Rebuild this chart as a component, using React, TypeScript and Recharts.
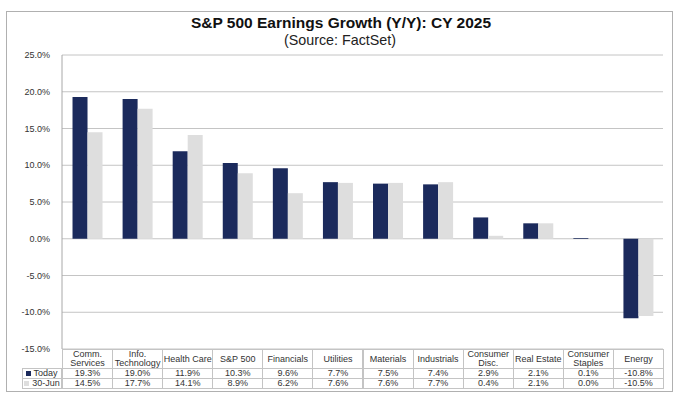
import { BarChart, Bar, XAxis, YAxis, CartesianGrid } from "recharts";

const categories = [
  "Comm.\nServices",
  "Info.\nTechnology",
  "Health Care",
  "S&P 500",
  "Financials",
  "Utilities",
  "Materials",
  "Industrials",
  "Consumer\nDisc.",
  "Real Estate",
  "Consumer\nStaples",
  "Energy",
];
const today = [19.3, 19.0, 11.9, 10.3, 9.6, 7.7, 7.5, 7.4, 2.9, 2.1, 0.1, -10.8];
const june30 = [14.5, 17.7, 14.1, 8.9, 6.2, 7.6, 7.6, 7.7, 0.4, 2.1, 0.0, -10.5];
const yTicks = [-15, -10, -5, 0, 5, 10, 15, 20, 25];

const NAVY = "#1b2a5c";
const LIGHT = "#dedede";
const GRID = "#c4c4c4";
const FONT = "'Liberation Sans', Arial, sans-serif";

const data = categories.map((c, i) => ({ name: c, today: today[i], june30: june30[i] }));

const PLOT_LEFT = 62;
const PLOT_RIGHT = 663;
const PLOT_TOP = 55;
const PLOT_BOTTOM = 349;
const colW = (PLOT_RIGHT - PLOT_LEFT) / categories.length;

const fmt = (v: number) => `${v.toFixed(1)}%`;

function Cell({ left, top, width, height, children }: any) {
  return (
    <div
      style={{
        position: "absolute",
        left,
        top,
        width,
        height,
        boxSizing: "border-box",
        border: `1px solid ${GRID}`,
        marginLeft: -1,
        marginTop: -1,
        display: "flex",
        alignItems: "center",
        justifyContent: "center",
        textAlign: "center",
        whiteSpace: "pre",
        fontSize: 9,
        lineHeight: "9px",
        color: "#333",
      }}
    >
      {children}
    </div>
  );
}

export default function App() {
  const headerTop = PLOT_BOTTOM;
  const row1Top = 368;
  const row2Top = 378;
  const rowEnd = 388;
  return (
    <div
      style={{
        position: "absolute",
        left: 0,
        top: 0,
        width: 680,
        height: 396,
        background: "#fff",
        fontFamily: FONT,
      }}
    >
      <div
        style={{
          position: "absolute",
          left: 6,
          top: 11,
          width: 667,
          height: 381,
          boxSizing: "border-box",
          border: "1px solid #b0b0b0",
        }}
      />
      <div
        style={{
          position: "absolute",
          left: 0,
          width: 682,
          top: 14,
          textAlign: "center",
          fontSize: 15.5,
          fontWeight: 700,
          color: "#111",
        }}
      >
        S&amp;P 500 Earnings Growth (Y/Y): CY 2025
      </div>
      <div
        style={{
          position: "absolute",
          left: 0,
          width: 680,
          top: 32,
          textAlign: "center",
          fontSize: 14.3,
          color: "#222",
        }}
      >
        (Source: FactSet)
      </div>
      <div style={{ position: "absolute", left: 0, top: 0 }}>
        <BarChart
          width={680}
          height={396}
          data={data}
          margin={{ top: PLOT_TOP, right: 680 - PLOT_RIGHT, bottom: 396 - PLOT_BOTTOM, left: 0 }}
          barCategoryGap="21%"
          barGap={0}
        >
          <CartesianGrid vertical={false} stroke={GRID} />
          <XAxis dataKey="name" hide />
          <YAxis
            width={PLOT_LEFT}
            domain={[-15, 25]}
            ticks={yTicks}
            tickFormatter={fmt}
            tickLine={false}
            axisLine={{ stroke: "#a8a8a8" }}
            tickMargin={6}
            tick={{ fontSize: 9, fill: "#333", fontFamily: FONT }}
            interval={0}
          />
          <Bar dataKey="today" fill={NAVY} isAnimationActive={false} />
          <Bar dataKey="june30" fill={LIGHT} isAnimationActive={false} />
        </BarChart>
      </div>
      {categories.map((c, i) => (
        <Cell key={c} left={PLOT_LEFT + i * colW + 1} top={headerTop + 1} width={colW + 1} height={row1Top - headerTop + 1}>
          {c}
        </Cell>
      ))}
      <Cell left={23} top={row1Top + 1} width={PLOT_LEFT - 22} height={row2Top - row1Top + 1}>
        <span style={{ display: "inline-block", width: 5, height: 5, background: NAVY, marginRight: 2 }} />
        Today
      </Cell>
      <Cell left={23} top={row2Top + 1} width={PLOT_LEFT - 22} height={rowEnd - row2Top + 1}>
        <span style={{ display: "inline-block", width: 5, height: 5, background: LIGHT, marginRight: 3 }} />
        30-Jun
      </Cell>
      {today.map((v, i) => (
        <Cell key={"t" + i} left={PLOT_LEFT + i * colW + 1} top={row1Top + 1} width={colW + 1} height={row2Top - row1Top + 1}>
          {fmt(v)}
        </Cell>
      ))}
      {june30.map((v, i) => (
        <Cell key={"j" + i} left={PLOT_LEFT + i * colW + 1} top={row2Top + 1} width={colW + 1} height={rowEnd - row2Top + 1}>
          {fmt(v)}
        </Cell>
      ))}
    </div>
  );
}
